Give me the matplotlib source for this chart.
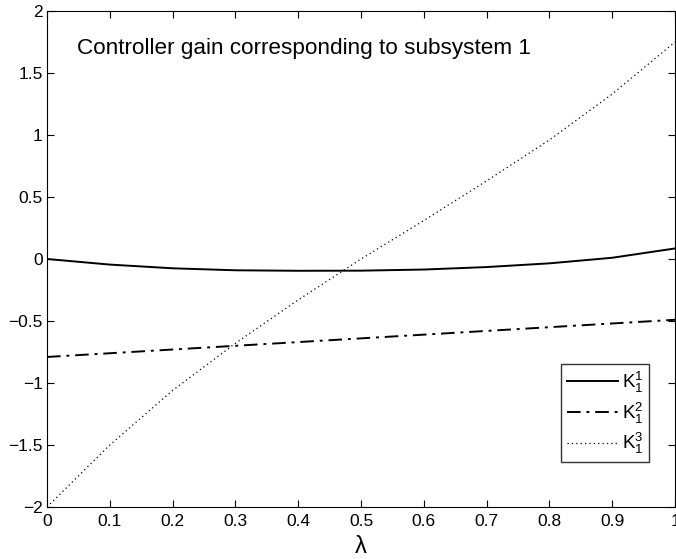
import matplotlib
matplotlib.use("Agg")
import matplotlib.pyplot as plt

plt.rcParams['font.family'] = ['Liberation Sans', 'DejaVu Sans']
plt.rcParams['mathtext.fontset'] = 'custom'
plt.rcParams['mathtext.rm'] = 'Liberation Sans'
plt.rcParams['mathtext.it'] = 'Liberation Sans'

# values
lam = [0.0, 0.1, 0.2, 0.3, 0.4, 0.5, 0.6, 0.7, 0.8, 0.9, 1.0]
k11 = [0.0, -0.045, -0.075, -0.091, -0.095, -0.094, -0.085, -0.065, -0.035, 0.01, 0.085]
k12 = [-0.79, -0.76, -0.73, -0.70, -0.67, -0.64, -0.61, -0.58, -0.55, -0.52, -0.49]
k13 = [-2.0, -1.50, -1.06, -0.68, -0.33, 0.0, 0.31, 0.63, 0.96, 1.33, 1.75]

xticks = [0, 0.1, 0.2, 0.3, 0.4, 0.5, 0.6, 0.7, 0.8, 0.9, 1]
xticklabels = ['0', '0.1', '0.2', '0.3', '0.4', '0.5', '0.6', '0.7', '0.8', '0.9', '1']
yticks = [-2, -1.5, -1, -0.5, 0, 0.5, 1, 1.5, 2]
yticklabels = ['\u22122', '\u22121.5', '\u22121', '\u22120.5', '0', '0.5', '1', '1.5', '2']

fig = plt.figure(figsize=(6.76, 5.59), dpi=100)
ax = fig.add_axes([47/676, 52/559, 628/676, 496/559])

ax.plot(lam, k11, color='black', lw=1.4, label=r'K$_1^1$')
ax.plot(lam, k12, color='black', lw=1.4, linestyle=(0, (7, 3, 1.5, 3)), label=r'K$_1^2$')
ax.plot(lam, k13, color='black', lw=0.9, linestyle=(0, (1, 2.5)), label=r'K$_1^3$')

ax.set_xlim(0, 1)
ax.set_ylim(-2, 2)
ax.set_xticks(xticks)
ax.set_xticklabels(xticklabels)
ax.set_yticks(yticks)
ax.set_yticklabels(yticklabels)
ax.tick_params(direction='in', top=True, right=True, labelsize=12.5, length=5)
ax.tick_params(axis='x', pad=5)
ax.tick_params(axis='y', pad=3)
ax.set_xlabel('\u03bb', fontsize=17, labelpad=5)

ax.text(0.048, 1.70, 'Controller gain corresponding to subsystem 1', fontsize=16.2, va='center')

leg = ax.legend(loc='lower right', bbox_to_anchor=(0.959, 0.091), borderaxespad=0,
                fancybox=False, edgecolor='black', fontsize=13.5, handlelength=2.75,
                handletextpad=0.2, borderpad=0.3, labelspacing=0.3)
leg.get_frame().set_linewidth(1.0)

fig.savefig('out.png', dpi=100)
